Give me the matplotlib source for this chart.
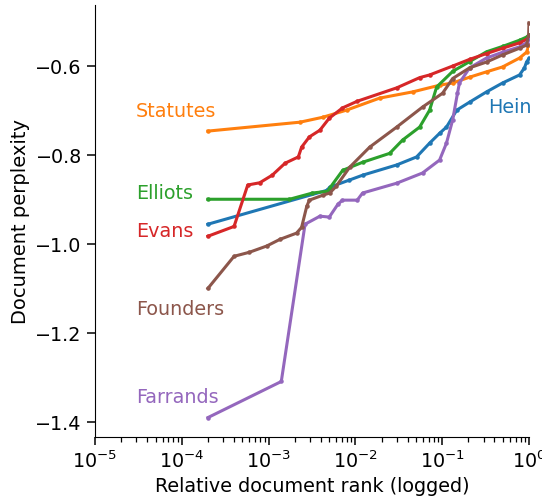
import numpy as np
import matplotlib
matplotlib.use("Agg")
import matplotlib.pyplot as plt

# ---- data ----
statutes_x = [2e-4, 2.3e-3, 4.2e-3, 7.9e-3, 1.9e-2, 4.57e-2, 9.33e-2, 0.132, 0.207, 0.324,
              0.496, 0.778, 0.936, 1.0]
statutes_y = [-0.746, -0.726, -0.715, -0.699, -0.672, -0.658, -0.643, -0.638, -0.625, -0.613,
              -0.602, -0.582, -0.569, -0.553]

evans_x = [2e-4, 4e-4, 5.75e-4, 7.9e-4, 1.1e-3, 1.55e-3, 2.2e-3, 2.4e-3, 2.95e-3, 3.9e-3,
           5.0e-3, 7.1e-3, 1.05e-2, 2.99e-2, 5.5e-2, 7.16e-2, 0.132, 0.207, 0.324, 0.496,
           0.778, 0.936, 1.0]
evans_y = [-0.982, -0.960, -0.867, -0.862, -0.845, -0.818, -0.804, -0.782, -0.759, -0.744,
           -0.717, -0.694, -0.679, -0.649, -0.626, -0.620, -0.600, -0.585, -0.572, -0.560,
           -0.548, -0.540, -0.537]

elliots_x = [2e-4, 1.74e-3, 3.2e-3, 4.8e-3, 5.06e-3, 7.14e-3, 1.21e-2, 2.48e-2, 3.5e-2, 5.5e-2,
             7.16e-2, 8.63e-2, 0.132, 0.207, 0.324, 0.496, 0.778, 0.936, 1.0]
elliots_y = [-0.899, -0.899, -0.885, -0.881, -0.874, -0.834, -0.816, -0.796, -0.766, -0.737,
             -0.699, -0.647, -0.612, -0.590, -0.568, -0.556, -0.542, -0.535, -0.530]

hein_x = [2e-4, 4.7e-3, 5.06e-3, 8.5e-3, 1.21e-2, 2.99e-2, 5.07e-2, 7.16e-2, 9.33e-2, 0.112,
          0.147, 0.207, 0.324, 0.496, 0.778, 0.887, 0.936, 1.0]
hein_y = [-0.955, -0.879, -0.872, -0.856, -0.845, -0.822, -0.804, -0.773, -0.751, -0.737,
          -0.699, -0.681, -0.658, -0.638, -0.620, -0.604, -0.591, -0.583]

farrands_x = [2e-4, 1.4e-3, 2.63e-3, 3.9e-3, 5.0e-3, 6.3e-3, 7.1e-3, 1.05e-2, 1.21e-2, 2.99e-2,
              5.94e-2, 9.33e-2, 0.112, 0.132, 0.150, 0.158, 0.207, 0.324, 0.496, 0.778,
              0.936, 1.0]
farrands_y = [-1.389, -1.308, -0.955, -0.937, -0.939, -0.910, -0.901, -0.901, -0.885, -0.863,
              -0.840, -0.811, -0.773, -0.721, -0.661, -0.638, -0.604, -0.582, -0.569, -0.557,
              -0.548, -0.540]

founders_x = [2e-4, 4e-4, 6.0e-4, 9.5e-4, 1.35e-3, 2.1e-3, 2.4e-3, 2.75e-3, 2.95e-3, 4.2e-3,
              5.06e-3, 6.0e-3, 8.6e-3, 1.46e-2, 2.99e-2, 5.94e-2, 0.101, 0.132, 0.207, 0.324,
              0.496, 0.778, 0.936, 0.99, 1.0]
founders_y = [-1.099, -1.027, -1.018, -1.004, -0.989, -0.975, -0.962, -0.915, -0.901, -0.890,
              -0.885, -0.870, -0.827, -0.782, -0.737, -0.692, -0.661, -0.628, -0.604, -0.591,
              -0.575, -0.560, -0.553, -0.530, -0.503]

series = [
    ("Hein", hein_x, hein_y, "#1f77b4"),
    ("Statutes", statutes_x, statutes_y, "#ff7f0e"),
    ("Elliots", elliots_x, elliots_y, "#2ca02c"),
    ("Evans", evans_x, evans_y, "#d62728"),
    ("Farrands", farrands_x, farrands_y, "#9467bd"),
    ("Founders", founders_x, founders_y, "#8c564b"),
]

label_names = ["Statutes", "Elliots", "Evans", "Founders", "Farrands", "Hein"]
label_x = [2.95e-5, 2.95e-5, 2.95e-5, 2.95e-5, 2.95e-5, 0.335]
label_y = [-0.703, -0.885, -0.971, -1.146, -1.344, -0.694]
label_colors = ["#ff7f0e", "#2ca02c", "#d62728", "#8c564b", "#9467bd", "#1f77b4"]

fig = plt.figure(figsize=(5.42, 5.0), dpi=100)
ax = fig.add_axes([95 / 542, 1 - 437 / 500, (529 - 95) / 542, (437 - 5) / 500])

for name, xs, ys, c in series:
    ax.plot(xs, ys, color=c, lw=2.2, marker=".", markersize=4.5, zorder=2)

for n, lx, ly, c in zip(label_names, label_x, label_y, label_colors):
    ax.text(lx, ly, n, color=c, fontsize=13.75, ha="left", va="center")

ax.set_xscale("log")
ax.set_xlim(1e-5, 1.0)
ax.set_ylim(-1.4326, -0.463)
ax.set_yticks([-1.4, -1.2, -1.0, -0.8, -0.6])
ax.set_yticklabels(["\u22121.4", "\u22121.2", "\u22121.0", "\u22120.8", "\u22120.6"])
ax.spines["top"].set_visible(False)
ax.spines["right"].set_visible(False)
ax.tick_params(axis="both", which="major", labelsize=13.75, length=6, width=1.1)
ax.tick_params(axis="x", which="minor", length=3.5, width=0.9)
ax.set_xlabel("Relative document rank (logged)", fontsize=13.8)
ax.set_ylabel("Document perplexity", fontsize=14)

fig.savefig("out.png", dpi=100)
